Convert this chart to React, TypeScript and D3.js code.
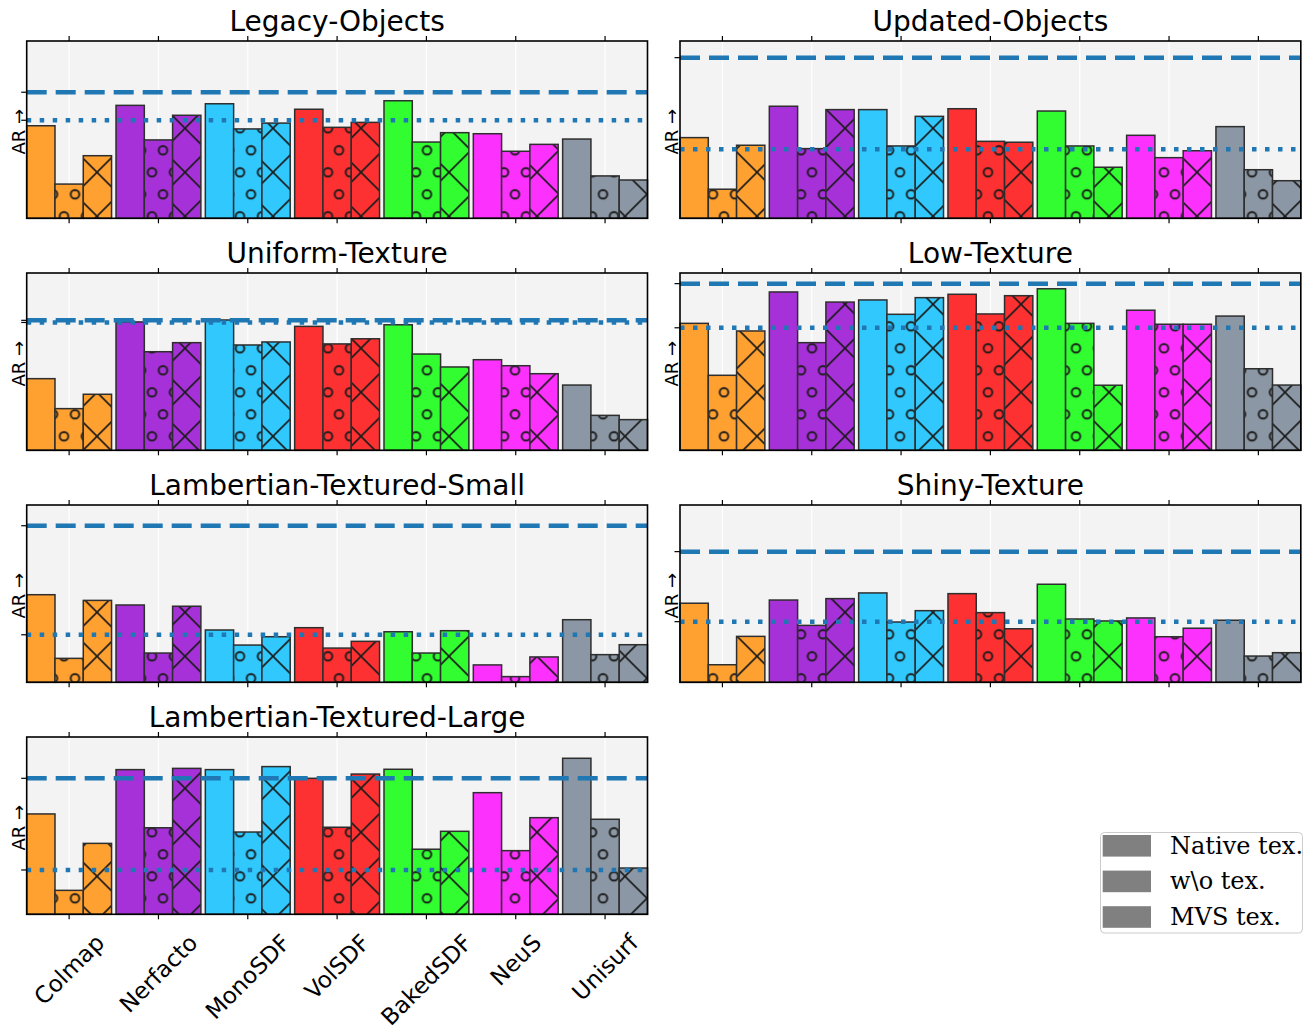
import React from 'react';
import * as d3 from 'd3';

const methods = ['Colmap', 'Nerfacto', 'MonoSDF', 'VolSDF', 'BakedSDF', 'NeuS', 'Unisurf'];
const variants = ['Native tex.', 'w\\o tex.', 'MVS tex.'];
const methodColors = ['#ffa131', '#a731d9', '#31c9fd', '#fd3131', '#31fd31', '#fd31fd', '#8b97a4'];

const panelTitles = [
  'Legacy-Objects',
  'Updated-Objects',
  'Uniform-Texture',
  'Low-Texture',
  'Lambertian-Textured-Small',
  'Shiny-Texture',
  'Lambertian-Textured-Large',
];

// values per method: [Native tex., w\o tex., MVS tex.]  (AR, relative scale 0-100)
const legacyObjects = [[52.2, 19.3, 35.3], [63.7, 44.2, 58.1], [64.6, 50.4, 53.7], [61.5, 51.3, 54.1], [66.3, 43.0, 48.3], [47.7, 37.8, 41.7], [44.7, 23.9, 21.6]];
const updatedObjects = [[45.5, 16.4, 41.2], [63.2, 39.3, 61.3], [61.3, 40.8, 57.5], [61.8, 43.4, 42.9], [60.5, 40.8, 28.8], [46.8, 34.2, 38.1], [51.7, 27.4, 21.2]];
const uniformTexture = [[40.4, 23.5, 31.6], [72.4, 55.6, 60.7], [73.5, 59.4, 61.1], [69.9, 60.0, 62.9], [70.8, 54.3, 47.0], [51.1, 47.7, 43.2], [36.8, 19.7, 17.3]];
const lowTexture = [[71.6, 42.3, 67.3], [89.3, 60.7, 83.6], [84.8, 76.7, 86.1], [88.0, 76.9, 87.2], [91.1, 71.6, 36.7], [79.0, 71.1, 71.1], [75.7, 46.0, 36.8]];
const lambertianSmall = [[49.4, 13.5, 46.2], [43.6, 16.5, 42.9], [29.5, 21.0, 25.7], [30.8, 19.3, 23.1], [28.5, 16.5, 29.1], [9.8, 3.2, 14.3], [35.3, 15.6, 21.2]];
const shinyTexture = [[44.6, 9.9, 25.9], [46.4, 32.1, 47.2], [50.4, 34.0, 40.4], [50.0, 39.3, 30.2], [55.3, 35.7, 34.6], [36.3, 25.7, 30.5], [35.0, 14.8, 16.7]];
const lambertianLarge = [[56.6, 13.5, 40.0], [81.6, 48.8, 82.3], [81.6, 46.4, 83.3], [76.7, 49.1, 79.1], [81.8, 36.7, 46.8], [68.6, 35.9, 54.5], [88.0, 53.6, 26.1]];

// reference lines per panel: [dashed, dotted]
const refLines = [
  [71.1, 55.3],
  [90.6, 38.9],
  [73.3, 72.1],
  [94.0, 69.1],
  [88.3, 26.8],
  [73.7, 34.2],
  [76.7, 25.0],
];

const panelValues = [legacyObjects, updatedObjects, uniformTexture, lowTexture, lambertianSmall, shinyTexture, lambertianLarge];

const W = 1304;
const H = 1029;
const colX = [[26.7, 647.5], [680, 1300.8]];
const rowTop = 41;
const rowStep = 232;
const axH = 177.3;
const barW = 0.95 / 3;
const hatchP = 22;

function measure(text: string, font: string): number {
  const ctx = document.createElement('canvas').getContext('2d');
  if (!ctx) return text.length * 10;
  ctx.font = font;
  return ctx.measureText(text).width;
}

function Panel({ idx }: { idx: number }) {
  const col = idx % 2;
  const row = Math.floor(idx / 2);
  const [x0, x1] = colX[col];
  const top = rowTop + row * rowStep;
  const bottom = top + axH;
  const xs = d3.scaleLinear().domain([-1.5 * barW, methods.length - 1 + 1.5 * barW]).range([x0, x1]);
  const ys = d3.scaleLinear().domain([0, 100]).range([bottom, top]);
  const values = panelValues[idx];
  const [dashed, dotted] = refLines[idx];
  const bw = xs(barW) - xs(0);
  const labelSize = 23;
  const labelFont = `${labelSize}px "DejaVu Sans"`;

  return (
    <g>
      <rect x={x0} y={top} width={x1 - x0} height={axH} fill="#f3f3f3" />
      {methods.map((m, i) => (
        <line key={'g' + m} x1={xs(i)} x2={xs(i)} y1={top} y2={bottom} stroke="#ffffff" strokeWidth={1.2} />
      ))}
      {values.map((triple, i) =>
        triple.map((v, k) => {
          const bx = xs(i + (k - 1) * barW) - bw / 2;
          const by = ys(v);
          const bh = ys(0) - ys(v);
          return (
            <g key={`b${i}-${k}`}>
              <rect x={bx} y={by} width={bw} height={bh} fill={methodColors[i]} />
              {k === 1 && <rect x={bx} y={by} width={bw} height={bh} fill="url(#hatchO)" />}
              {k === 2 && <rect x={bx} y={by} width={bw} height={bh} fill="url(#hatchX)" />}
              <rect x={bx} y={by} width={bw} height={bh} fill="none" stroke="#2e2e2e" strokeWidth={1.5} />
            </g>
          );
        })
      )}
      <line x1={x0} x2={x1} y1={ys(dashed)} y2={ys(dashed)} stroke="#1f77b4" strokeWidth={4.5} strokeDasharray="20 9" />
      <line x1={x0} x2={x1} y1={ys(dotted)} y2={ys(dotted)} stroke="#1f77b4" strokeWidth={4.5} strokeDasharray="4.5 8.5" />
      <rect x={x0} y={top} width={x1 - x0} height={axH} fill="none" stroke="#000" strokeWidth={1.6} />
      {methods.map((m, i) => (
        <g key={'t' + m}>
          <line x1={xs(i)} x2={xs(i)} y1={top} y2={top - 5} stroke="#000" strokeWidth={1.2} />
          <line x1={xs(i)} x2={xs(i)} y1={bottom} y2={bottom + 5} stroke="#000" strokeWidth={1.2} />
        </g>
      ))}
      {[dashed, dotted].map((v, k) => (
        <line key={'yt' + k} x1={x0} x2={x0 - 5.5} y1={ys(v)} y2={ys(v)} stroke="#000" strokeWidth={1.2} />
      ))}
      <text
        x={(x0 + x1) / 2}
        y={top - 10}
        textAnchor="middle"
        fontFamily="DejaVu Sans"
        fontSize={28}
        fill="#000"
      >
        {panelTitles[idx]}
      </text>
      <text
        transform={`translate(${x0 - 8.5},${(top + bottom) / 2 + 2}) rotate(-90)`}
        textAnchor="middle"
        dominantBaseline="central"
        fontFamily="DejaVu Sans"
        fontSize={18}
        fill="#000"
      >
        {'AR →'}
      </text>
      {idx === 6 &&
        methods.map((m, i) => {
          const L = measure(m, labelFont);
          const h = labelSize * 1.17;
          const cy = 929 + (L + h) / (2 * Math.SQRT2);
          return (
            <text
              key={'xl' + m}
              transform={`translate(${xs(i)},${cy}) rotate(-45)`}
              textAnchor="middle"
              dominantBaseline="central"
              fontFamily="DejaVu Sans"
              fontSize={labelSize}
              fill="#000"
            >
              {m}
            </text>
          );
        })}
    </g>
  );
}

export default function App() {
  const legendX = 1100.5;
  const legendY = 832.5;
  return (
    <svg
      width={W}
      height={H}
      viewBox={`0 0 ${W} ${H}`}
      style={{ position: 'absolute', left: 0, top: 0, background: '#ffffff' }}
    >
      <defs>
        <pattern id="hatchO" patternUnits="userSpaceOnUse" x={3.5} y={7.3} width={hatchP} height={hatchP * 2}>
          <circle cx={hatchP / 4} cy={hatchP / 2} r={4.3} fill="none" stroke="#1a1a1a" strokeWidth={1.9} />
          <circle cx={(3 * hatchP) / 4} cy={(3 * hatchP) / 2} r={4.3} fill="none" stroke="#1a1a1a" strokeWidth={1.9} />
        </pattern>
        <pattern id="hatchX" patternUnits="userSpaceOnUse" x={9} y={40.3} width={hatchP * 2} height={hatchP * 2}>
          <path
            d={`M-5,-5 L${2 * hatchP + 5},${2 * hatchP + 5} M-5,${2 * hatchP + 5} L${2 * hatchP + 5},-5`}
            stroke="#1a1a1a"
            strokeWidth={1.6}
            fill="none"
          />
        </pattern>
      </defs>
      <rect x={0} y={0} width={W} height={H} fill="#ffffff" />
      {panelTitles.map((t, i) => (
        <Panel key={t} idx={i} />
      ))}
      <g>
        <rect x={legendX} y={legendY} width={202} height={100.5} rx={4} fill="#ffffff" fillOpacity={0.8} stroke="#cccccc" strokeWidth={1} />
        {variants.map((v, k) => {
          const cy = 845.8 + k * 35.6;
          return (
            <g key={v}>
              <rect x={1102.7} y={cy - 10.8} width={48.3} height={21.6} fill="#808080" />
              <text x={1170} y={cy + 8} fontFamily="DejaVu Serif" fontSize={24} fill="#000">
                {v}
              </text>
            </g>
          );
        })}
      </g>
    </svg>
  );
}
